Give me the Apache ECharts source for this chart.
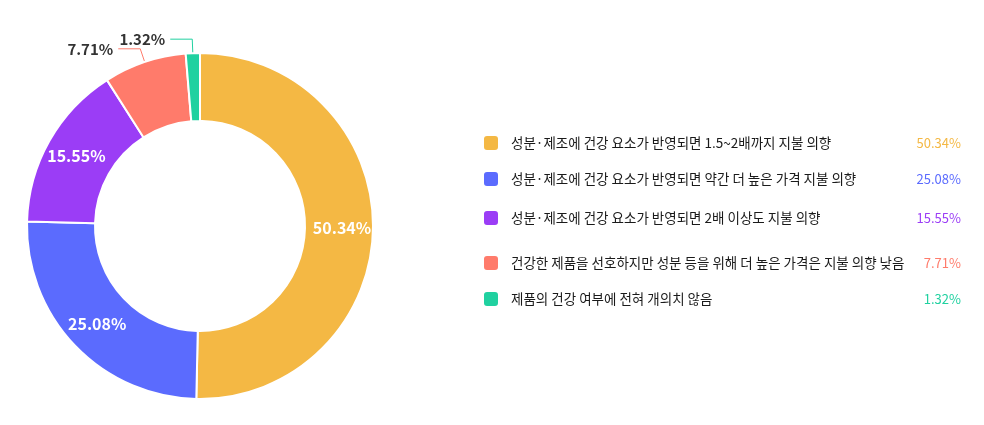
<!DOCTYPE html>
<html>
<head>
<meta charset="utf-8">
<script src="https://cdn.jsdelivr.net/npm/echarts@6/dist/echarts.min.js"></script>
<style>
  html, body { margin: 0; padding: 0; background: #fff; }
  #chart { width: 984px; height: 425px; }
</style>
</head>
<body>
<div id="chart"></div>
<script>
// 응답 항목
var names = [
  '성분·제조에 건강 요소가 반영되면 1.5~2배까지 지불 의향',
  '성분·제조에 건강 요소가 반영되면 약간 더 높은 가격 지불 의향',
  '성분·제조에 건강 요소가 반영되면 2배 이상도 지불 의향',
  '건강한 제품을 선호하지만 성분 등을 위해 더 높은 가격은 지불 의향 낮음',
  '제품의 건강 여부에 전혀 개의치 않음'
];
var values = [50.34, 25.08, 15.55, 7.71, 1.32];
var colors = ['#f4b844', '#5b6bfe', '#9b3df6', '#ff7b6b', '#20d1a0'];
// 작은 조각은 바깥 라벨
var outsideIdx = [3, 4];
// 범례 줄 위치
var legendTops = [129, 165, 204, 249, 285];

var chart = echarts.init(document.getElementById('chart'));

var pieData = names.map(function (n, i) {
  var outside = outsideIdx.indexOf(i) >= 0;
  return {
    name: n,
    value: values[i],
    itemStyle: { color: colors[i] },
    label: outside ? {
      position: 'outside',
      color: '#333',
      fontSize: 15
    } : {
      position: 'inside',
      color: '#fff',
      fontSize: 16
    },
    labelLine: { show: outside }
  };
});

var legends = names.map(function (n, i) {
  return {
    data: [n],
    orient: 'vertical',
    left: 477,
    top: legendTops[i],
    itemWidth: 16,
    itemHeight: 16,
    icon: 'roundRect',
    selectedMode: false,
    formatter: function (name) {
      return '{a|' + name + '}{b' + i + '|' + values[i].toFixed(2) + '%}';
    },
    textStyle: {
      rich: (function () {
        var r = {
          a: {
            width: 380,
            padding: [0, 0, 0, 7],
            fontSize: 13.5,
            color: '#1a1a1a',
            fontFamily: 'Noto Sans CJK KR'
          }
        };
        r['b' + i] = {
          width: 70,
          align: 'right',
          fontSize: 13,
          color: colors[i],
          fontFamily: 'Noto Sans CJK KR'
        };
        return r;
      })()
    }
  };
});

var option = {
  color: colors,
  animation: false,
  legend: legends,
  series: [{
    type: 'pie',
    center: [200, 226],
    radius: [105, 173],
    startAngle: 90,
    avoidLabelOverlap: false,
    itemStyle: {
      borderColor: '#fff',
      borderWidth: 2
    },
    label: {
      formatter: '{c}%',
      fontWeight: 'bold',
      fontFamily: 'Noto Sans CJK KR'
    },
    labelLine: {
      length: 14,
      length2: 22,
      lineStyle: { width: 1 }
    },
    data: pieData
  }]
};
chart.setOption(option);
</script>
</body>
</html>
